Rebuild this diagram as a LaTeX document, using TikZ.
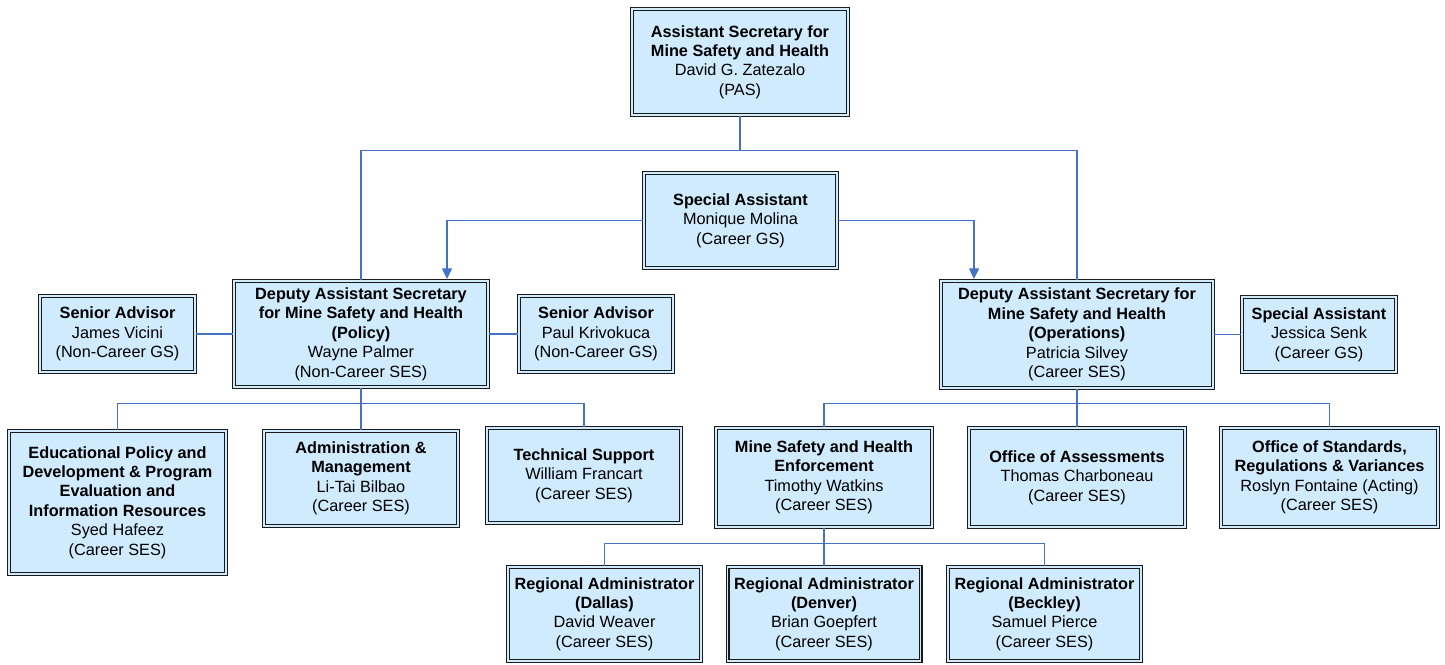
\documentclass[tikz,border=0pt]{standalone}
\usepackage{fontspec}
\setmainfont{Liberation Sans}
\usetikzlibrary{arrows.meta}
\definecolor{boxfill}{HTML}{CFEBFD}
\definecolor{conncol}{HTML}{4472C4}
\definecolor{edgecol}{HTML}{1A1A1A}
\newcommand{\bt}[1]{\textbf{#1}}
\begin{document}
\begin{tikzpicture}[x=0.75pt,y=-0.75pt,
  orgbox/.style={rectangle, draw=edgecol, line width=0.85pt, double=boxfill, double distance=1.3pt,
    fill=boxfill, align=center, inner sep=0pt, text=black,
    font=\fontsize{12.2}{14.6}\selectfont},
  conn/.style={draw=conncol, line width=1pt},
  arr/.style={conn, -{Triangle[width=7.5pt,length=8pt]}}
]
\useasboundingbox (0,0) rectangle (1445,664);
% box sizes: outer px minus ~4px for double border
\node[orgbox, minimum width=162pt, minimum height=79.5pt] (top) at (740,62)
  {\bt{Assistant Secretary for}\\\bt{Mine Safety and Health}\\David G. Zatezalo\\(PAS)};
\node[orgbox, minimum width=144.75pt, minimum height=71.25pt] (mon) at (740.5,220.5)
  {\bt{Special Assistant}\\Monique Molina\\(Career GS)};
\node[orgbox, minimum width=190.5pt, minimum height=79.5pt] (dasP) at (361,334)
  {\bt{Deputy Assistant Secretary}\\\bt{for Mine Safety and Health}\\\bt{(Policy)}\\Wayne Palmer\\(Non-Career SES)};
\node[orgbox, minimum width=116.25pt, minimum height=57pt] (james) at (117.5,334)
  {\bt{Senior Advisor}\\James Vicini\\(Non-Career GS)};
\node[orgbox, minimum width=115.5pt, minimum height=57pt] (paul) at (596,334)
  {\bt{Senior Advisor}\\Paul Krivokuca\\(Non-Career GS)};
\node[orgbox, minimum width=204pt, minimum height=80.25pt] (dasO) at (1077,334.5)
  {\bt{Deputy Assistant Secretary for}\\\bt{Mine Safety and Health}\\\bt{(Operations)}\\Patricia Silvey\\(Career SES)};
\node[orgbox, minimum width=115.5pt, minimum height=56.25pt] (jess) at (1319,334.5)
  {\bt{Special Assistant}\\Jessica Senk\\(Career GS)};
\node[orgbox, minimum width=162.75pt, minimum height=107.25pt] (edu) at (117.5,502.5)
  {\bt{Educational Policy and}\\\bt{Development \& Program}\\\bt{Evaluation and}\\\bt{Information Resources}\\Syed Hafeez\\(Career SES)};
\node[orgbox, minimum width=145.5pt, minimum height=71.25pt] (admin) at (361,478.5)
  {\bt{Administration \&}\\\bt{Management}\\Li-Tai Bilbao\\(Career SES)};
\node[orgbox, minimum width=145.5pt, minimum height=71.25pt] (tech) at (584,475.5)
  {\bt{Technical Support}\\William Francart\\(Career SES)};
\node[orgbox, minimum width=162pt, minimum height=74.25pt] (mshe) at (824,477.5)
  {\bt{Mine Safety and Health}\\\bt{Enforcement}\\Timothy Watkins\\(Career SES)};
\node[orgbox, minimum width=162pt, minimum height=74.25pt] (assess) at (1077,477.5)
  {\bt{Office of Assessments}\\Thomas Charboneau\\(Career SES)};
\node[orgbox, minimum width=162.75pt, minimum height=74.25pt] (std) at (1329.5,477.5)
  {\bt{Office of Standards,}\\\bt{Regulations \& Variances}\\Roslyn Fontaine (Acting)\\(Career SES)};
\node[orgbox, minimum width=144.75pt, minimum height=70.5pt] (dallas) at (604.5,614)
  {\bt{Regional Administrator}\\\bt{(Dallas)}\\David Weaver\\(Career SES)};
\node[orgbox, minimum width=144.75pt, minimum height=70.5pt] (denver) at (824,614)
  {\bt{Regional Administrator}\\\bt{(Denver)}\\Brian Goepfert\\(Career SES)};
\node[orgbox, minimum width=144.75pt, minimum height=70.5pt] (beckley) at (1044.5,614)
  {\bt{Regional Administrator}\\\bt{(Beckley)}\\Samuel Pierce\\(Career SES)};
% connectors
\draw[conn] (top.south) -- ++(0,35) coordinate (tbus);
\draw[conn] (dasP.north) |- (tbus) -| (dasO.north);
\coordinate (pa) at (447,279);
\coordinate (pb) at (974,279);
\draw[arr] (mon.west) -| (pa);
\draw[arr] (mon.east) -| (pb);
\draw[conn] (james.east) -- (dasP.west);
\draw[conn] (dasP.east) -- (paul.west);
\draw[conn] (dasO.east) -- (jess.west);
\draw[conn] (dasP.south) -- ++(0,16) coordinate (pbus);
\draw[conn] (edu.north) |- (pbus) -| (tech.north);
\draw[conn] (pbus) -- (admin.north);
\draw[conn] (dasO.south) -- ++(0,15) coordinate (obus);
\draw[conn] (mshe.north) |- (obus) -| (std.north);
\draw[conn] (obus) -- (assess.north);
\draw[conn] (mshe.south) -- ++(0,16) coordinate (mbus);
\draw[conn] (dallas.north) |- (mbus) -| (beckley.north);
\draw[conn] (mbus) -- (denver.north);
\end{tikzpicture}
\end{document}
